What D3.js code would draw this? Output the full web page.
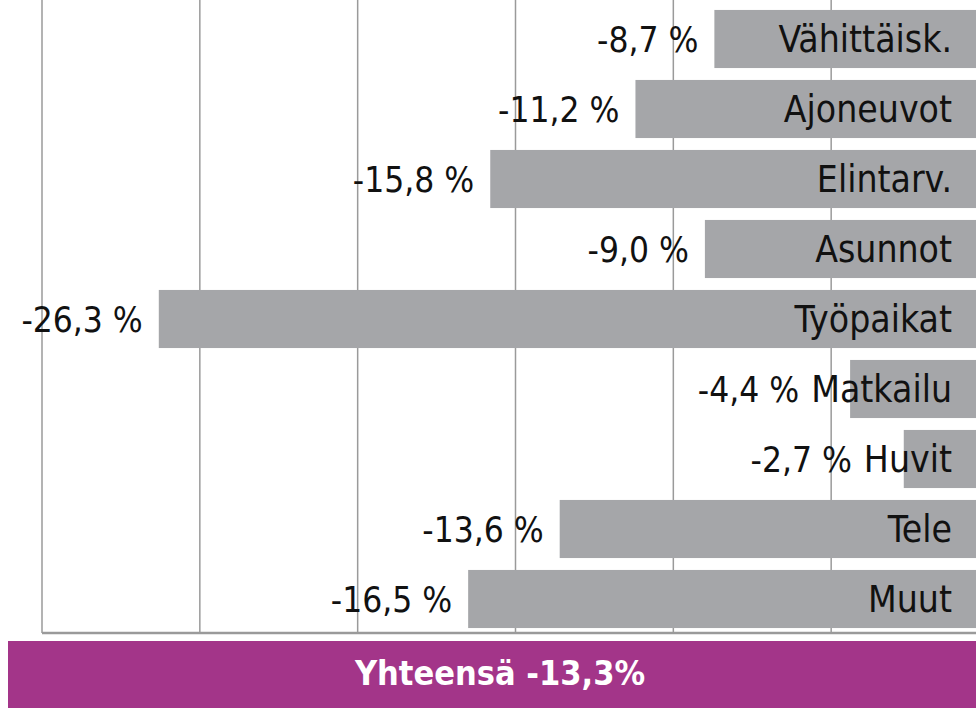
<!DOCTYPE html>
<html>
<head>
<meta charset="utf-8">
<script src="https://cdn.jsdelivr.net/npm/d3@7"></script>
<style>
  body { margin: 0; background: #fff; }
  svg { display: block; }
  text { font-family: "DejaVu Sans Condensed", "DejaVu Sans", sans-serif; }
</style>
</head>
<body>
<svg id="chart"></svg>
<script>
// data
var categories = ["Vähittäisk.", "Ajoneuvot", "Elintarv.", "Asunnot", "Työpaikat", "Matkailu", "Huvit", "Tele", "Muut"];
var values = [-8.7, -11.2, -15.8, -9.0, -26.3, -4.4, -2.7, -13.6, -16.5];
var gridTicks = [-30, -25, -20, -15, -10, -5];
var totalLabel = "Yhteensä -13,3%";

var width = 976, height = 708;

var svg = d3.select("#chart")
  .attr("width", width)
  .attr("height", height);

// x: -30 at the left axis, 0 just past the right edge
var x = d3.scaleLinear()
  .domain([-30, 0])
  .range([42, 989]);

var y = d3.scaleBand()
  .domain(categories)
  .range([4, 634])
  .paddingInner(0.17)
  .paddingOuter(0.085);

// gridlines
svg.append("g")
  .selectAll("line")
  .data(gridTicks)
  .enter().append("line")
  .attr("x1", function(d) { return x(d); })
  .attr("x2", function(d) { return x(d); })
  .attr("y1", 0)
  .attr("y2", 633)
  .attr("stroke", "#9a9a9a")
  .attr("stroke-width", 1.5);

// baseline
svg.append("line")
  .attr("x1", x(-30))
  .attr("x2", width)
  .attr("y1", 633)
  .attr("y2", 633)
  .attr("stroke", "#9a9a9a")
  .attr("stroke-width", 2.5);

var rows = svg.append("g")
  .selectAll("g")
  .data(categories)
  .enter().append("g");

rows.append("rect")
  .attr("x", function(d, i) { return x(values[i]); })
  .attr("y", function(d) { return y(d); })
  .attr("width", function(d, i) { return x(0) - x(values[i]); })
  .attr("height", y.bandwidth())
  .attr("fill", "#a5a6a9");

// category labels
var catLabels = rows.append("text")
  .attr("x", 952)
  .attr("y", function(d) { return y(d) + y.bandwidth() / 2; })
  .attr("dy", "0.36em")
  .attr("text-anchor", "end")
  .attr("font-size", 37)
  .attr("fill", "#111")
  .text(function(d) { return d; });

// value labels, pushed left of the category name when the bar is short
rows.append("text")
  .attr("x", function(d, i) {
    var catStart = 952 - catLabels.nodes()[i].getComputedTextLength();
    return Math.min(x(values[i]) - 16, catStart - 12);
  })
  .attr("y", function(d) { return y(d) + y.bandwidth() / 2; })
  .attr("dy", "0.36em")
  .attr("text-anchor", "end")
  .attr("font-size", 35)
  .attr("fill", "#111")
  .text(function(d, i) { return d3.format(".1f")(values[i]).replace(".", ",").replace("−", "-") + " %"; });

// total banner
svg.append("rect")
  .attr("x", 8)
  .attr("y", 641)
  .attr("width", width - 8)
  .attr("height", height - 641)
  .attr("fill", "#a33589");

svg.append("text")
  .attr("x", 500)
  .attr("y", 673)
  .attr("dy", "0.36em")
  .attr("text-anchor", "middle")
  .attr("font-size", 34)
  .attr("font-weight", "bold")
  .attr("fill", "#fff")
  .text(totalLabel);
</script>
</body>
</html>
